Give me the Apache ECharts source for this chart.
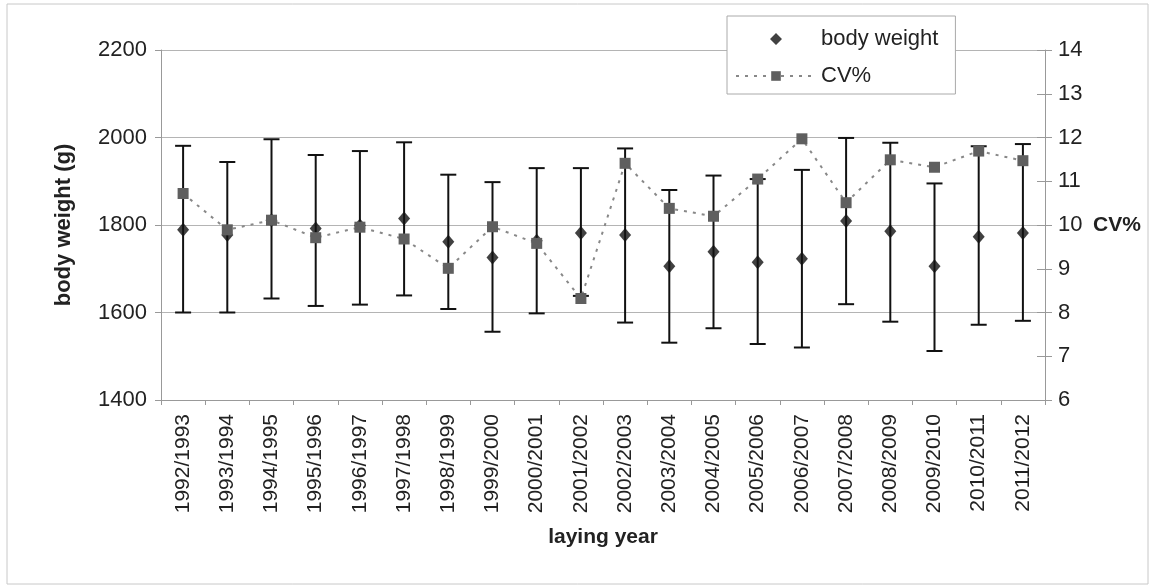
<!DOCTYPE html>
<html>
<head>
<meta charset="utf-8">
<script src="https://cdn.jsdelivr.net/npm/echarts@6/dist/echarts.min.js"></script>
<style>
html,body{margin:0;padding:0;background:#fff;}
#chart{width:1156px;height:588px;}
</style>
</head>
<body>
<div id="chart"></div>
<script>
var categories = ['1992/1993','1993/1994','1994/1995','1995/1996','1996/1997','1997/1998','1998/1999','1999/2000','2000/2001','2001/2002','2002/2003','2003/2004','2004/2005','2005/2006','2006/2007','2007/2008','2008/2009','2009/2010','2010/2011','2011/2012'];
var bwMean  = [1789,1777,1811,1792,1799,1815,1762,1726,1764,1782,1777,1706,1739,1715,1723,1809,1786,1706,1773,1782];
var bwUpper = [1981,1944,1996,1960,1969,1989,1915,1898,1930,1930,1975,1880,1913,1905,1926,1999,1988,1895,1980,1985];
var bwLower = [1600,1600,1632,1615,1618,1639,1608,1556,1598,1638,1577,1531,1564,1528,1520,1619,1579,1512,1572,1581];
var cv      = [10.72,9.89,10.11,9.71,9.95,9.68,9.01,9.96,9.58,8.32,11.41,10.38,10.20,11.05,11.97,10.51,11.49,11.32,11.69,11.47];
var leftTicks = [1400,1600,1800,2000,2200];
var rightTicks = [6,7,8,9,10,11,12,13,14];

var errData = categories.map(function(c,i){ return [i, bwLower[i], bwUpper[i]]; });
var FONT = '"Liberation Sans", Arial, sans-serif';
var chart = echarts.init(document.getElementById('chart'), null, {renderer:'canvas'});
var option = {
  backgroundColor:'#fff',
  animation:false,
  textStyle:{fontFamily:FONT},
  graphic:[{type:'rect',shape:{x:7,y:4,width:1141,height:580},style:{fill:'none',stroke:'#c8c8c8',lineWidth:1},silent:true,z:-1}],
  grid:{left:161,right:111,top:50,bottom:188,containLabel:false},
  legend:{
    orient:'vertical', left:727, top:16,
    padding:[12,17,7,8], itemGap:15, itemWidth:80, itemHeight:12,
    backgroundColor:'#fff', borderColor:'#aaa', borderWidth:1, borderRadius:0,
    textStyle:{fontFamily:FONT,fontSize:22,color:'#222'},
    data:[{name:'body weight',icon:'path://M0,6L0.01,6M34,6L40,0L46,6L40,12ZM80,6L79.99,6'},{name:'CV%'}]
  },
  xAxis:{
    type:'category', data:categories, boundaryGap:true,
    axisLine:{lineStyle:{color:'#999',width:1}},
    axisTick:{show:true,length:5,lineStyle:{color:'#999'}},
    axisLabel:{rotate:90,fontSize:21,color:'#222',margin:14,fontFamily:FONT,interval:0},
    name:'laying year', nameLocation:'middle', nameGap:127,
    nameTextStyle:{fontFamily:FONT,fontSize:21,fontWeight:'bold',color:'#222'}
  },
  yAxis:[{
    type:'value', min:leftTicks[0], max:leftTicks[leftTicks.length-1], interval:200,
    axisLine:{show:true,lineStyle:{color:'#999'}},
    axisTick:{show:true,length:6,lineStyle:{color:'#999'}},
    axisLabel:{fontSize:22,color:'#222',margin:14,fontFamily:FONT,formatter:function(v){return String(v);}},
    splitLine:{show:true,lineStyle:{color:'#b4b4b4',width:1}},
    name:'body weight (g)', nameLocation:'middle', nameGap:86,
    nameTextStyle:{fontFamily:FONT,fontSize:22,fontWeight:'bold',color:'#222'}
  },{
    type:'value', position:'right', min:rightTicks[0], max:rightTicks[rightTicks.length-1], interval:1,
    axisLine:{show:true,lineStyle:{color:'#999'}},
    axisTick:{show:true,length:7,lineStyle:{color:'#999'}},
    axisLabel:{fontSize:22,color:'#222',margin:13,fontFamily:FONT},
    splitLine:{show:false},
    name:'CV%', nameLocation:'middle', nameRotate:0, nameGap:48,
    nameTextStyle:{fontFamily:FONT,fontSize:21,fontWeight:'bold',color:'#222',align:'left'}
  },{
    type:'value', position:'right', min:rightTicks[0], max:rightTicks[rightTicks.length-1], interval:1,
    axisLine:{show:false},
    axisTick:{show:true,inside:true,length:8,lineStyle:{color:'#999'}},
    axisLabel:{show:false}, splitLine:{show:false}
  }],
  series:[{
    type:'custom', name:'err', z:2, silent:true,
    renderItem:function(params, api){
      var x = api.value(0);
      var lo = api.coord([x, api.value(1)]);
      var hi = api.coord([x, api.value(2)]);
      var hw = 8;
      var st = {stroke:'#111', lineWidth:2};
      return {type:'group', children:[
        {type:'line', shape:{x1:lo[0],y1:lo[1],x2:hi[0],y2:hi[1]}, style:st},
        {type:'line', shape:{x1:lo[0]-hw,y1:lo[1],x2:lo[0]+hw,y2:lo[1]}, style:st},
        {type:'line', shape:{x1:hi[0]-hw,y1:hi[1],x2:hi[0]+hw,y2:hi[1]}, style:st}
      ]};
    },
    encode:{x:0,y:[1,2]},
    data:errData
  },{
    type:'scatter', name:'body weight', yAxisIndex:0, z:3,
    symbol:'diamond', symbolSize:[12,14],
    itemStyle:{color:'#111'},
    data:bwMean
  },{
    type:'line', name:'CV%', yAxisIndex:1, z:4,
    symbol:'rect', symbolSize:11,
    itemStyle:{color:'#5f5f5f'},
    lineStyle:{color:'#888',width:2,type:[3,6]},
    data:cv
  }]
};
chart.setOption(option);
</script>
</body>
</html>
